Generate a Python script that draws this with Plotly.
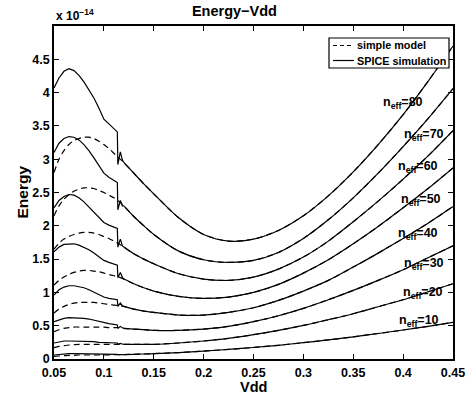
import plotly.graph_objects as go

# ---------------- data (energy in units of 1e-14) ----------------
neff = [80, 70, 60, 50, 40, 30, 20, 10]

# simple model (dashed) sample points
vdd_model = [0.05, 0.055, 0.06, 0.065, 0.07, 0.075, 0.08, 0.085, 0.09, 0.095, 0.1, 0.105, 0.11, 0.115,
             0.12, 0.13, 0.14, 0.15, 0.175, 0.2, 0.225, 0.25, 0.275, 0.3, 0.325, 0.35, 0.375, 0.4, 0.425, 0.45]

model_80 = [2.8, 3.0, 3.13, 3.22, 3.28, 3.31, 3.33, 3.33, 3.31, 3.27, 3.22, 3.16, 3.09, 3.02,
            2.95, 2.79, 2.63, 2.48, 2.12, 1.87, 1.77, 1.8, 1.93, 2.15, 2.45, 2.81, 3.22, 3.67, 4.17, 4.7]
model_70 = [2.15, 2.3, 2.4, 2.47, 2.52, 2.55, 2.57, 2.57, 2.56, 2.53, 2.5, 2.46, 2.42, 2.37,
            2.3, 2.14, 2.0, 1.87, 1.62, 1.49, 1.45, 1.48, 1.6, 1.81, 2.09, 2.42, 2.79, 3.19, 3.61, 4.06]
model_60 = [1.65, 1.74, 1.8, 1.84, 1.87, 1.89, 1.9, 1.9, 1.89, 1.87, 1.84, 1.81, 1.77, 1.73,
            1.68, 1.58, 1.5, 1.43, 1.28, 1.2, 1.18, 1.23, 1.35, 1.53, 1.77, 2.06, 2.37, 2.7, 3.05, 3.43]
model_50 = [1.11, 1.18, 1.23, 1.27, 1.3, 1.32, 1.33, 1.33, 1.32, 1.31, 1.29, 1.27, 1.25, 1.23,
            1.2, 1.13, 1.07, 1.02, 0.94, 0.91, 0.93, 1.0, 1.12, 1.29, 1.49, 1.73, 1.99, 2.27, 2.56, 2.87]
model_40 = [0.69, 0.75, 0.79, 0.82, 0.84, 0.85, 0.85, 0.85, 0.85, 0.84, 0.83, 0.82, 0.81, 0.8,
            0.79, 0.75, 0.72, 0.7, 0.66, 0.66, 0.7, 0.77, 0.88, 1.02, 1.18, 1.38, 1.59, 1.81, 2.04, 2.29]
model_30 = [0.41, 0.44, 0.46, 0.47, 0.48, 0.48, 0.48, 0.48, 0.48, 0.48, 0.48, 0.47, 0.47, 0.47,
            0.46, 0.45, 0.44, 0.43, 0.43, 0.45, 0.49, 0.56, 0.65, 0.76, 0.89, 1.03, 1.18, 1.34, 1.52, 1.70]
model_20 = [0.17, 0.19, 0.2, 0.21, 0.215, 0.22, 0.22, 0.22, 0.22, 0.22, 0.22, 0.22, 0.22, 0.22,
            0.22, 0.22, 0.22, 0.22, 0.24, 0.27, 0.31, 0.365, 0.43, 0.505, 0.59, 0.68, 0.785, 0.89, 1.01, 1.13]
model_10 = [0.04, 0.045, 0.05, 0.055, 0.055, 0.06, 0.06, 0.06, 0.06, 0.06, 0.06, 0.06, 0.065, 0.065,
            0.066, 0.07, 0.075, 0.08, 0.097, 0.119, 0.144, 0.173, 0.206, 0.245, 0.287, 0.333, 0.383, 0.435, 0.491, 0.55]

# SPICE simulation (solid) sample points
vdd_spice = [0.05, 0.055, 0.06, 0.065, 0.07, 0.075, 0.08, 0.085, 0.09, 0.095, 0.1, 0.105, 0.11, 0.1135,
             0.114, 0.1165, 0.1185,
             0.12, 0.13, 0.14, 0.15, 0.175, 0.2, 0.225, 0.25, 0.275, 0.3, 0.325, 0.35, 0.375, 0.4, 0.425, 0.45]

spice_80 = [4.07, 4.22, 4.32, 4.36, 4.33, 4.26, 4.16, 4.04, 3.92, 3.77, 3.6, 3.53, 3.46, 3.41,
            2.92, 3.11, 2.99,
            2.95, 2.79, 2.63, 2.48, 2.12, 1.87, 1.77, 1.8, 1.93, 2.15, 2.45, 2.81, 3.22, 3.67, 4.17, 4.7]
spice_70 = [3.1, 3.24, 3.31, 3.34, 3.33, 3.29, 3.22, 3.13, 3.02, 2.9, 2.79, 2.73, 2.68, 2.65,
            2.24, 2.38, 2.3,
            2.3, 2.14, 2.0, 1.87, 1.62, 1.49, 1.45, 1.48, 1.6, 1.81, 2.09, 2.42, 2.79, 3.19, 3.61, 4.06]
spice_60 = [2.27, 2.38, 2.44, 2.47, 2.46, 2.42, 2.36, 2.28, 2.2, 2.12, 2.05, 2.01, 1.98, 1.96,
            1.68, 1.8, 1.7,
            1.68, 1.58, 1.5, 1.43, 1.28, 1.2, 1.18, 1.23, 1.35, 1.53, 1.77, 2.06, 2.37, 2.7, 3.05, 3.43]
spice_50 = [1.61, 1.68, 1.72, 1.73, 1.73, 1.71, 1.68, 1.64, 1.59, 1.53, 1.48, 1.45, 1.43, 1.41,
            1.22, 1.3, 1.23,
            1.2, 1.13, 1.07, 1.02, 0.94, 0.91, 0.93, 1.0, 1.12, 1.29, 1.49, 1.73, 1.99, 2.27, 2.56, 2.87]
spice_40 = [0.96, 1.04, 1.08, 1.1, 1.1, 1.09, 1.07, 1.04, 1.0, 0.96, 0.93, 0.91, 0.9, 0.89,
            0.79, 0.84, 0.8,
            0.79, 0.75, 0.72, 0.7, 0.66, 0.66, 0.7, 0.77, 0.88, 1.02, 1.18, 1.38, 1.59, 1.81, 2.04, 2.29]
spice_30 = [0.56, 0.59, 0.61, 0.62, 0.62, 0.62, 0.61, 0.6, 0.58, 0.56, 0.54, 0.53, 0.52, 0.51,
            0.46, 0.49, 0.47,
            0.46, 0.45, 0.44, 0.43, 0.43, 0.45, 0.49, 0.56, 0.65, 0.76, 0.89, 1.03, 1.18, 1.34, 1.52, 1.70]
spice_20 = [0.24, 0.26, 0.27, 0.27, 0.27, 0.27, 0.27, 0.26, 0.26, 0.25, 0.25, 0.245, 0.24, 0.24,
            0.22, 0.235, 0.225,
            0.22, 0.22, 0.22, 0.22, 0.24, 0.27, 0.31, 0.365, 0.43, 0.505, 0.59, 0.68, 0.785, 0.89, 1.01, 1.13]
spice_10 = [0.06, 0.07, 0.075, 0.08, 0.08, 0.08, 0.08, 0.08, 0.078, 0.076, 0.074, 0.072, 0.07, 0.07,
            0.065, 0.068, 0.066,
            0.066, 0.07, 0.075, 0.08, 0.097, 0.119, 0.144, 0.173, 0.206, 0.245, 0.287, 0.333, 0.383, 0.435, 0.491, 0.55]

model_curves = [model_80, model_70, model_60, model_50, model_40, model_30, model_20, model_10]
spice_curves = [spice_80, spice_70, spice_60, spice_50, spice_40, spice_30, spice_20, spice_10]

# n_eff label positions: left edge Vdd, vertical centre Energy
label_x = [0.379, 0.400, 0.394, 0.397, 0.394, 0.400, 0.399, 0.395]
label_y = [3.84, 3.37, 2.89, 2.38, 1.88, 1.42, 0.99, 0.57]

legend_names = ["simple model", "SPICE simulation"]

x_ticks = [0.05, 0.1, 0.15, 0.2, 0.25, 0.3, 0.35, 0.4, 0.45]
x_tick_text = ["0.05", "0.1", "0.15", "0.2", "0.25", "0.3", "0.35", "0.4", "0.45"]
y_ticks = [0, 0.5, 1, 1.5, 2, 2.5, 3, 3.5, 4, 4.5]
y_tick_text = ["0", "0.5", "1", "1.5", "2", "2.5", "3", "3.5", "4", "4.5"]

FONT = "Liberation Sans, Arial, Helvetica, sans-serif"
W, H = 470, 395
ML, MR, MT, MB = 54, 17, 26, 36
PW, PH = W - ML - MR, H - MT - MB


def px(xp):
    return (xp - ML) / PW


def py(yp):
    return (H - MB - yp) / PH


DASH = "6px,4px"
fig = go.Figure()

split = vdd_spice.index(0.12)
for y in spice_curves:
    # left part with the switching jump (straight segments)
    fig.add_trace(go.Scatter(x=vdd_spice[:split + 1], y=y[:split + 1], mode="lines",
                             line=dict(color="black", width=1.2),
                             showlegend=False, hoverinfo="skip"))
    # smooth right part
    fig.add_trace(go.Scatter(x=vdd_spice[split:], y=y[split:], mode="lines",
                             line=dict(color="black", width=1.2, shape="spline", smoothing=0.8),
                             showlegend=False, hoverinfo="skip"))
for y in model_curves:
    fig.add_trace(go.Scatter(x=vdd_model, y=y, mode="lines",
                             line=dict(color="black", width=1.2, dash=DASH, shape="spline", smoothing=0.8),
                             showlegend=False, hoverinfo="skip"))

annotations = []
for n, lx, ly in zip(neff, label_x, label_y):
    annotations.append(dict(x=lx, y=ly, xref="x", yref="y",
                            text="<b>n<sub>eff</sub>=%d</b>" % n, showarrow=False,
                            font=dict(family=FONT, size=12.5, color="black"),
                            xanchor="left", yanchor="middle", borderpad=0))
annotations.append(dict(x=0, y=1, xref="paper", yref="paper", xanchor="left", yanchor="bottom",
                        text="<b>x 10<sup>−14</sup></b>", showarrow=False, yshift=1,
                        font=dict(family=FONT, size=12, color="black")))
# axis titles
annotations.append(dict(x=px(253.5), y=py(387), xref="paper", yref="paper", xanchor="center",
                        yanchor="middle", text="<b>Vdd</b>", showarrow=False,
                        font=dict(family=FONT, size=14.5, color="black")))
annotations.append(dict(x=px(22), y=py(192.5), xref="paper", yref="paper", xanchor="center",
                        yanchor="middle", text="<b>Energy</b>", showarrow=False, textangle=-90,
                        font=dict(family=FONT, size=15.5, color="black")))

# hand-drawn legend box (MATLAB style)
shapes = [
    dict(type="rect", xref="paper", yref="paper", x0=px(329), x1=px(449), y0=py(68), y1=py(38),
         line=dict(color="black", width=1.2), fillcolor="white", layer="above"),
    dict(type="line", xref="paper", yref="paper", x0=px(333), x1=px(354), y0=py(45.5), y1=py(45.5),
         line=dict(color="black", width=1.2, dash="4px,3px"), layer="above"),
    dict(type="line", xref="paper", yref="paper", x0=px(333), x1=px(354), y0=py(60.5), y1=py(60.5),
         line=dict(color="black", width=1.2), layer="above"),
]
for name, yy in zip(legend_names, [45.5, 60.5]):
    annotations.append(dict(x=px(355), y=py(yy), xref="paper", yref="paper", xanchor="left",
                            yanchor="middle", text="<b>%s</b>" % name, showarrow=False,
                            font=dict(family=FONT, size=10.8, color="black")))

fig.update_layout(
    width=W, height=H,
    margin=dict(l=ML, r=MR, t=MT, b=MB, autoexpand=False),
    paper_bgcolor="white", plot_bgcolor="white",
    title=dict(text="<b>Energy−Vdd</b>", x=px(253), xanchor="center", y=(H - 11) / H, yanchor="middle",
               font=dict(family=FONT, size=14.5, color="black")),
    font=dict(family=FONT, size=12, color="black"),
    showlegend=False,
    annotations=annotations,
    shapes=shapes,
    xaxis=dict(range=[0.05, 0.45], tickvals=x_ticks, ticktext=["<b>%s</b>" % t for t in x_tick_text],
               showline=True, linecolor="black", linewidth=1.5, mirror="ticks",
               ticks="inside", ticklen=5, tickwidth=1, tickcolor="black",
               showgrid=False, zeroline=False, ticklabelstandoff=1, automargin=False,
               tickfont=dict(family=FONT, size=12.5)),
    yaxis=dict(range=[0, 5], tickvals=y_ticks, ticktext=["<b>%s</b>" % t for t in y_tick_text],
               showline=True, linecolor="black", linewidth=1.5, mirror="ticks",
               ticks="inside", ticklen=5, tickwidth=1, tickcolor="black",
               showgrid=False, zeroline=False, automargin=False,
               tickfont=dict(family=FONT, size=12.5)),
)

fig.write_html("out.html")
